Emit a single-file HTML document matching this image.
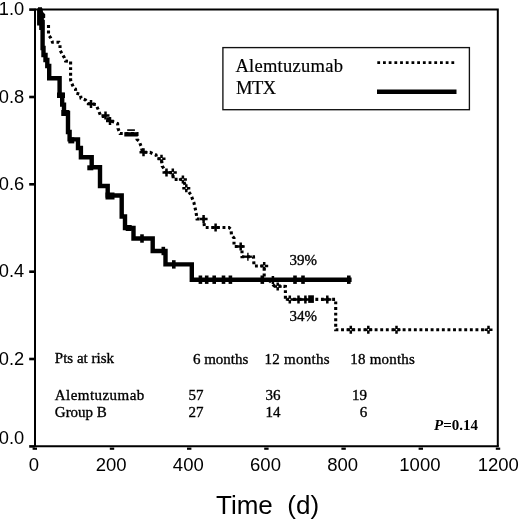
<!DOCTYPE html>
<html><head><meta charset="utf-8"><style>
html,body{margin:0;padding:0;background:#fff;}
body{width:520px;height:522px;overflow:hidden;}
svg{display:block;will-change:transform;}
</style></head><body>
<svg width="520" height="522" viewBox="0 0 520 522">
<path d="M35 9.5 H497.8 V446.3" fill="none" stroke="#000" stroke-width="2"/>
<path d="M35 8.5 V447.3 M34 446.3 H498.8" fill="none" stroke="#000" stroke-width="2"/>
<rect x="29.2" y="445.1" width="5.5" height="2.6" fill="#000"/>
<rect x="29.2" y="357.7" width="5.5" height="2.6" fill="#000"/>
<rect x="29.2" y="270.4" width="5.5" height="2.6" fill="#000"/>
<rect x="29.2" y="183.0" width="5.5" height="2.6" fill="#000"/>
<rect x="29.2" y="95.7" width="5.5" height="2.6" fill="#000"/>
<rect x="29.2" y="8.3" width="5.5" height="2.6" fill="#000"/>
<rect x="32.6" y="447.6" width="4.4" height="2.2" fill="#000"/>
<rect x="109.8" y="447.6" width="4.4" height="2.2" fill="#000"/>
<rect x="187.0" y="447.6" width="4.4" height="2.2" fill="#000"/>
<rect x="264.2" y="447.6" width="4.4" height="2.2" fill="#000"/>
<rect x="341.4" y="447.6" width="4.4" height="2.2" fill="#000"/>
<rect x="418.6" y="447.6" width="4.4" height="2.2" fill="#000"/>
<rect x="495.8" y="447.6" width="4.4" height="2.2" fill="#000"/>
<text x="24.2" y="443.5" text-anchor="end" font-family="Liberation Sans" font-size="18.3">0.0</text>
<text x="24.2" y="364.7" text-anchor="end" font-family="Liberation Sans" font-size="18.3">0.2</text>
<text x="24.2" y="277.4" text-anchor="end" font-family="Liberation Sans" font-size="18.3">0.4</text>
<text x="24.2" y="190.0" text-anchor="end" font-family="Liberation Sans" font-size="18.3">0.6</text>
<text x="24.2" y="102.7" text-anchor="end" font-family="Liberation Sans" font-size="18.3">0.8</text>
<text x="24.2" y="15.3" text-anchor="end" font-family="Liberation Sans" font-size="18.3">1.0</text>
<text x="33.9" y="471.2" text-anchor="middle" font-family="Liberation Sans" font-size="18.5">0</text>
<text x="111.1" y="471.2" text-anchor="middle" font-family="Liberation Sans" font-size="18.5">200</text>
<text x="188.3" y="471.2" text-anchor="middle" font-family="Liberation Sans" font-size="18.5">400</text>
<text x="265.5" y="471.2" text-anchor="middle" font-family="Liberation Sans" font-size="18.5">600</text>
<text x="342.7" y="471.2" text-anchor="middle" font-family="Liberation Sans" font-size="18.5">800</text>
<text x="419.9" y="471.2" text-anchor="middle" font-family="Liberation Sans" font-size="18.5">1000</text>
<text x="498.3" y="471.2" text-anchor="middle" font-family="Liberation Sans" font-size="18.5">1200</text>
<text x="216" y="513.8" font-family="Liberation Sans" font-size="26" xml:space="preserve">Time  (d)</text>
<rect x="222.9" y="47.6" width="246.5" height="62.1" fill="#fff" stroke="#111" stroke-width="1.35"/>
<text x="235.4" y="72.4" font-family="Liberation Serif" font-size="18.5" stroke="#000" stroke-width="0.2" textLength="107.5" lengthAdjust="spacing">Alemtuzumab</text>
<text x="236" y="94.3" font-family="Liberation Serif" font-size="18.5" stroke="#000" stroke-width="0.2" textLength="40" lengthAdjust="spacing">MTX</text>
<line x1="377.3" y1="62.6" x2="454.3" y2="62.6" stroke="#000" stroke-width="2.8" stroke-dasharray="2.8 2.9"/>
<line x1="377" y1="91.7" x2="456.5" y2="91.7" stroke="#000" stroke-width="4.6"/>
<text x="54.8" y="363.3" font-family="Liberation Serif" font-size="15" stroke="#000" stroke-width="0.35" >Pts at risk</text>
<text x="192.9" y="363.5" font-family="Liberation Serif" font-size="15" stroke="#000" stroke-width="0.35" >6 months</text>
<text x="264.6" y="363.5" font-family="Liberation Serif" font-size="15" stroke="#000" stroke-width="0.35" textLength="65" lengthAdjust="spacing">12 months</text>
<text x="350.3" y="363.5" font-family="Liberation Serif" font-size="15" stroke="#000" stroke-width="0.35" textLength="64.5" lengthAdjust="spacing">18 months</text>
<text x="54.8" y="400" font-family="Liberation Serif" font-size="15" stroke="#000" stroke-width="0.35" textLength="89.5" lengthAdjust="spacing">Alemtuzumab</text>
<text x="188.6" y="400" font-family="Liberation Serif" font-size="15" stroke="#000" stroke-width="0.35" >57</text>
<text x="265.6" y="400" font-family="Liberation Serif" font-size="15" stroke="#000" stroke-width="0.35" >36</text>
<text x="352.0" y="400" font-family="Liberation Serif" font-size="15" stroke="#000" stroke-width="0.35" >19</text>
<text x="54.8" y="417" font-family="Liberation Serif" font-size="15" stroke="#000" stroke-width="0.35" >Group B</text>
<text x="188.6" y="417" font-family="Liberation Serif" font-size="15" stroke="#000" stroke-width="0.35" >27</text>
<text x="265.6" y="417" font-family="Liberation Serif" font-size="15" stroke="#000" stroke-width="0.35" >14</text>
<text x="359.8" y="417" font-family="Liberation Serif" font-size="15" stroke="#000" stroke-width="0.35" >6</text>
<text x="434" y="430.3" font-family="Liberation Serif" font-size="15" font-weight="bold"><tspan font-style="italic">P</tspan>=0.14</text>
<text x="289.5" y="265.3" font-family="Liberation Serif" font-size="15" stroke="#000" stroke-width="0.35" >39%</text>
<text x="289.5" y="320.7" font-family="Liberation Serif" font-size="15" stroke="#000" stroke-width="0.35" >34%</text>
<polyline points="48.5,25 48.5,35 50.5,37.5 52.5,42.3 59,42.3 60,44 60,50 62.5,54.5 64.5,58 65.5,61 70.6,61.5 70.6,80 71.7,83.3 73.5,87.3 75.5,89 75.8,93 80.4,94.2 81,98.3 85.6,100 88,103.5 96,104.5 98.4,110 100.8,116.3 105,116.5 107.5,118.5 110.5,121 114.2,122.1 117.6,123.6 118,128.4 120,133.5 137,133.5 137,139.4 139.2,141.3 141.2,146.6 142.5,152.3 150,152.3 153.5,154 156,155 157,158.7 161.5,158.7 162.2,166 166.5,172.6 172.8,172.6 173.3,179.4 183,179.4 186.3,188.2 191,195 194,203 196,212 197,219 203.6,219 204.5,227.5 229,227.5 231,229.5 231.5,235 234,238 234,246.5 242,246.5 242,256.7 253.5,256.7 254,266 264.2,266 264.2,280 270,281 273.8,285.6 285.4,286.5 285.4,299.4 335.7,299.4 335.7,329.7 490,329.7" fill="none" stroke="#000" stroke-width="3.1" stroke-dasharray="2.9 2.7"/>
<path d="M87.0 104.0H95.0M91.0 100.0V108.0" stroke="#000" stroke-width="2.5" fill="none"/>
<path d="M101.5 115.5H109.5M105.5 111.5V119.5" stroke="#000" stroke-width="2.5" fill="none"/>
<path d="M106.0 121.0H114.0M110.0 117.0V125.0" stroke="#000" stroke-width="2.5" fill="none"/>
<path d="M139.5 152.3H147.5M143.5 148.3V156.3" stroke="#000" stroke-width="2.5" fill="none"/>
<path d="M157.5 158.7H165.5M161.5 154.7V162.7" stroke="#000" stroke-width="2.5" fill="none"/>
<rect x="160.8" y="158.0" width="1.4" height="1.4" fill="#fff"/>
<path d="M162.5 172.6H170.5M166.5 168.6V176.6" stroke="#000" stroke-width="2.5" fill="none"/>
<path d="M168.8 172.6H176.8M172.8 168.6V176.6" stroke="#000" stroke-width="2.5" fill="none"/>
<rect x="172.1" y="171.9" width="1.4" height="1.4" fill="#fff"/>
<path d="M178.9 179.4H186.9M182.9 175.4V183.4" stroke="#000" stroke-width="2.5" fill="none"/>
<rect x="182.2" y="178.7" width="1.4" height="1.4" fill="#fff"/>
<path d="M182.3 188.2H190.3M186.3 184.2V192.2" stroke="#000" stroke-width="2.5" fill="none"/>
<rect x="185.6" y="187.5" width="1.4" height="1.4" fill="#fff"/>
<path d="M199.6 219.0H207.6M203.6 215.0V223.0" stroke="#000" stroke-width="2.5" fill="none"/>
<path d="M211.6 227.5H219.6M215.6 223.5V231.5" stroke="#000" stroke-width="2.5" fill="none"/>
<path d="M236.7 246.5H244.7M240.7 242.5V250.5" stroke="#000" stroke-width="2.5" fill="none"/>
<path d="M243.9 256.7H251.9" stroke="#000" stroke-width="2.3" fill="none"/><path d="M247.9 252.7V260.7" stroke="#000" stroke-width="1.4" fill="none"/>
<path d="M260.2 266.0H268.2M264.2 262.0V270.0" stroke="#000" stroke-width="2.5" fill="none"/>
<rect x="263.5" y="265.3" width="1.4" height="1.4" fill="#fff"/>
<path d="M268.9 280.0H276.9M272.9 276.0V284.0" stroke="#000" stroke-width="2.5" fill="none"/>
<path d="M273.7 286.5H281.7M277.7 282.5V290.5" stroke="#000" stroke-width="2.5" fill="none"/>
<rect x="277.0" y="285.8" width="1.4" height="1.4" fill="#fff"/>
<path d="M285.8 299.4H293.8M289.8 295.4V303.4" stroke="#000" stroke-width="2.5" fill="none"/>
<rect x="289.1" y="298.7" width="1.4" height="1.4" fill="#fff"/>
<path d="M294.5 299.4H302.5M298.5 295.4V303.4" stroke="#000" stroke-width="2.5" fill="none"/>
<path d="M301.4 299.4H309.4M305.4 295.4V303.4" stroke="#000" stroke-width="2.5" fill="none"/>
<path d="M323.3 299.4H331.3M327.3 295.4V303.4" stroke="#000" stroke-width="2.5" fill="none"/>
<path d="M346.8 329.7H354.8M350.8 325.7V333.7" stroke="#000" stroke-width="2.5" fill="none"/>
<rect x="350.1" y="329.0" width="1.4" height="1.4" fill="#fff"/>
<path d="M364.3 329.7H372.3M368.3 325.7V333.7" stroke="#000" stroke-width="2.5" fill="none"/>
<rect x="367.6" y="329.0" width="1.4" height="1.4" fill="#fff"/>
<path d="M392.5 329.7H400.5M396.5 325.7V333.7" stroke="#000" stroke-width="2.5" fill="none"/>
<rect x="395.8" y="329.0" width="1.4" height="1.4" fill="#fff"/>
<path d="M484.5 329.7H492.5M488.5 325.7V333.7" stroke="#000" stroke-width="2.5" fill="none"/>
<rect x="487.8" y="329.0" width="1.4" height="1.4" fill="#fff"/>
<rect x="127.2" y="129.3" width="7.7" height="1.6" fill="#000"/><rect x="124.3" y="132.2" width="13.5" height="4.3" fill="#000"/>
<rect x="308.2" y="295.3" width="5.7" height="7.6" fill="#000"/>
<path d="M37.1 8.5 L42.6 8.5 L43 12 L45.2 14.3 L45.2 17.8 L43.8 18.5 L44.2 22 L44.2 30 L39.2 30 L39.2 25.5 L37.1 25.5 Z" fill="#000"/>
<polyline points="38,9.5 39.8,9.5 39.8,22 42.6,22 42.6,48 43.5,48 43.5,55 45.5,55 45.5,60 47.3,60 47.3,66 49.2,66 49.2,78.3 59.6,78.3 59.6,95 62.2,95 62.2,104.6 64,104.6 64,113 68,113 68,132 69.6,132 69.6,139.4 78,139.4 78,148 80.9,148 80.9,157.2 91.7,157.2 91.7,167.3 100,167.3 100,186 107.7,186 107.7,195.5 121.7,195.5 121.7,216.5 125,216.5 125,228 133.5,228 133.5,238.5 152.7,238.5 152.7,251 165.5,251 165.5,264.4 191.8,264.4 191.8,279.7 351.6,279.7" fill="none" stroke="#000" stroke-width="4.4" stroke-linejoin="miter"/>
<rect x="57.0" y="92.5" width="8" height="5.5" fill="#000"/>
<rect x="61.3" y="110.0" width="8" height="6" fill="#000"/>
<rect x="68.3" y="137.4" width="6" height="6" fill="#000"/>
<rect x="87.3" y="165.3" width="6" height="5" fill="#000"/>
<rect x="105.5" y="192.5" width="9" height="7" fill="#000"/>
<rect x="125.7" y="225.0" width="6" height="6" fill="#000"/>
<rect x="140.2" y="234.3" width="3.6" height="8.4" fill="#000"/>
<rect x="161.5" y="246.8" width="3.6" height="8.4" fill="#000"/>
<rect x="172.0" y="260.2" width="3.6" height="8.4" fill="#000"/>
<rect x="198.6" y="275.5" width="3.6" height="8.4" fill="#000"/>
<rect x="204.9" y="275.5" width="3.6" height="8.4" fill="#000"/>
<rect x="212.4" y="275.5" width="3.6" height="8.4" fill="#000"/>
<rect x="221.7" y="275.5" width="3.6" height="8.4" fill="#000"/>
<rect x="228.6" y="275.5" width="3.6" height="8.4" fill="#000"/>
<rect x="260.5" y="275.5" width="3.6" height="8.4" fill="#000"/>
<rect x="293.2" y="275.5" width="3.6" height="8.4" fill="#000"/>
<rect x="301.2" y="275.5" width="3.6" height="8.4" fill="#000"/>
<rect x="347.0" y="275.5" width="3.6" height="8.4" fill="#000"/>
</svg>
</body></html>
